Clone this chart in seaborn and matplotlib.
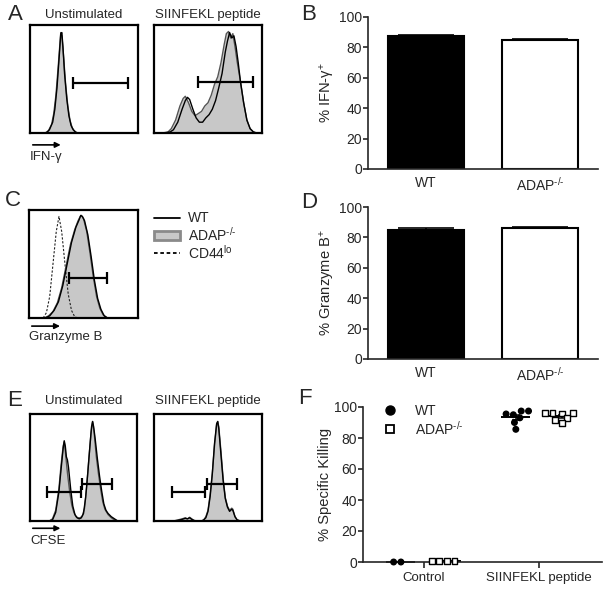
import numpy as np
import pandas as pd
import seaborn as sns
import matplotlib.pyplot as plt
from matplotlib.lines import Line2D
from matplotlib.patches import Patch

sns.set_style("ticks")
plt.rcParams['font.family'] = ['Liberation Sans', 'DejaVu Sans']
plt.rcParams['mathtext.fontset'] = 'custom'
plt.rcParams['mathtext.rm'] = 'Liberation Sans'
plt.rcParams['mathtext.it'] = 'Liberation Sans:italic'
plt.rcParams['mathtext.bf'] = 'Liberation Sans:bold'

# ---- flow histograms (x = channel position 0-100, y = % of max) ----
# A, unstimulated
a_un_adap_x = [14, 17, 20, 22, 24, 26, 27.5, 28.5, 29.5, 31, 33, 35, 37, 39, 41, 44]
a_un_adap_y = [0, 2, 8, 18, 35, 60, 80, 93, 90, 72, 45, 25, 12, 5, 2, 0]
a_un_wt_x = [15, 18, 21, 23, 25, 27, 28.5, 29.5, 30.5, 32, 34, 36, 38, 40, 43]
a_un_wt_y = [0, 3, 10, 22, 42, 70, 92, 93, 80, 55, 32, 16, 7, 3, 0]
# A, SIINFEKL peptide
a_pep_adap_x = [8, 13, 16, 20, 24, 27, 29, 32, 35, 38, 41, 44, 47, 50, 53, 56, 59, 62, 65, 67, 69, 71, 73, 75, 77, 80, 83, 86, 89, 92, 95]
a_pep_adap_y = [0, 1, 4, 12, 25, 32, 34, 28, 20, 16, 18, 20, 25, 28, 35, 45, 52, 65, 82, 92, 94, 88, 92, 80, 66, 48, 28, 12, 4, 1, 0]
a_pep_wt_x = [10, 15, 18, 22, 26, 29, 31, 33, 36, 39, 42, 45, 48, 51, 54, 57, 60, 63, 66, 68, 70, 72, 74, 76, 78, 80, 83, 86, 89, 92, 95]
a_pep_wt_y = [0, 1, 3, 10, 22, 30, 33, 31, 22, 14, 10, 10, 14, 17, 22, 30, 42, 55, 75, 85, 93, 88, 90, 80, 65, 48, 28, 12, 4, 1, 0]
a_gates = [[(40, 91, 46)], [(41, 92, 47)]]

# C, granzyme B
c_adap_x = [14, 18, 22, 26, 30, 34, 38, 42, 45, 47, 48, 50, 53, 56, 59, 62, 65, 68, 72]
c_adap_y = [0, 2, 6, 14, 28, 48, 68, 82, 90, 94, 95, 92, 80, 60, 38, 20, 9, 3, 0]
c_wt_x = [15, 19, 23, 27, 31, 35, 39, 43, 46, 47.5, 49, 51, 54, 57, 60, 63, 66, 69, 72]
c_wt_y = [0, 2, 7, 15, 30, 50, 70, 84, 91, 95, 94, 90, 77, 57, 35, 18, 8, 2, 0]
c_cd44_x = [13, 16, 19, 22, 25, 27.5, 30, 33, 36, 39, 42, 45]
c_cd44_y = [0, 5, 20, 50, 80, 94, 80, 50, 22, 7, 1, 0]
c_gates = [(36.7, 71.6, 37)]

# E, CFSE
e_un_adap_x = [18, 21, 24, 27, 29, 31, 32, 33, 35, 37, 39, 41, 43, 45, 47, 49, 51, 53, 55, 57, 58.5, 60, 62, 64, 66, 68, 70, 73, 76, 79, 82]
e_un_adap_y = [0, 2, 10, 30, 52, 70, 74, 65, 45, 28, 15, 8, 4, 3, 3, 5, 12, 32, 58, 82, 93, 82, 60, 44, 30, 18, 11, 6, 3, 1, 0]
e_un_wt_x = [18, 21, 24, 27, 29, 31, 32, 33, 34, 35, 36, 38, 40, 42, 44, 46, 48, 50, 52, 54, 56, 57.5, 58.5, 59.5, 61, 63, 65, 67, 69, 71, 73, 76, 79, 82]
e_un_wt_y = [0, 1, 8, 27, 48, 68, 75, 70, 60, 57, 50, 30, 14, 6, 3, 2, 3, 7, 22, 45, 70, 88, 93, 88, 76, 58, 42, 28, 16, 10, 7, 4, 2, 0]
e_pep_adap_x = [18, 22, 26, 29, 31, 33, 35, 37, 40, 44, 46, 48, 50, 52, 54, 56, 58, 59, 60, 62, 64, 66, 68, 70, 72, 73, 75, 77, 80]
e_pep_adap_y = [0, 1, 2, 3, 2, 3.5, 2, 0.5, 0, 0, 1, 4, 10, 25, 45, 70, 90, 93, 88, 65, 40, 22, 14, 10, 12, 11, 4, 1, 0]
e_pep_wt_x = [18, 22, 26, 29, 31, 33, 35, 37, 40, 44, 46, 48, 50, 52, 54, 56, 58, 59, 60, 62, 64, 66, 68, 70, 72, 73, 75, 77, 80]
e_pep_wt_y = [0, 0.5, 1.5, 2.5, 2, 3, 1.5, 0.5, 0, 0, 1, 3, 9, 23, 44, 72, 91, 93, 86, 62, 38, 21, 13, 9, 11, 10, 4, 1, 0]
e_gates = [[(15.6, 47.7, 27), (48.3, 76.6, 34.5)], [(16.4, 47, 27), (48.8, 76.5, 34.5)]]

# ---- bar charts ----
genotypes = ['WT', 'ADAP$^{\\text{-/-}}$']
ifng_mean = [87.7, 85.1]
ifng_sem = [0.7, 0.6]
gzmb_mean = [85.0, 86.0]
gzmb_sem = [1.0, 0.6]

# ---- in vivo killing ----
kill_cond = ['Control', 'SIINFEKL peptide']
wt_control = [0, 0]
adap_control = [0.5, 0.5, 0.5, 0.5]
wt_siinfekl = [97.4, 95.0, 95.5, 97.4, 90.0, 85.6, 93.0]
adap_siinfekl = [96.0, 96.0, 96.0, 95.8, 92.7, 89.5, 91.6]

FILL = '#c8c8c8'
EDGE = '#555555'
FS = 9.5

fig = plt.figure(figsize=(6.06, 5.91), dpi=100)
W, H = 606, 591


def add_ax(x0, y0, x1, y1):
    return fig.add_axes([x0 / W, 1 - y1 / H, (x1 - x0) / W, (y1 - y0) / H])


def hist_panel(ax, ax_, ay_, wx, wy, gates, title=None, pad=5):
    ax.fill_between(ax_, ay_, color=FILL, lw=0)
    sns.lineplot(x=ax_, y=ay_, ax=ax, color=EDGE, lw=1)
    sns.lineplot(x=wx, y=wy, ax=ax, color='black', lw=1)
    for g0, g1, gy in gates:
        ax.errorbar((g0 + g1) / 2, gy, xerr=(g1 - g0) / 2, color='black',
                    lw=1.6, capsize=4, capthick=1.6)
    ax.set_xlim(0, 100)
    ax.set_ylim(0, 100)
    ax.set_xticks([])
    ax.set_yticks([])
    for s in ax.spines.values():
        s.set_visible(True)
        s.set_linewidth(1.6)
        s.set_color('black')
    if title:
        ax.set_title(title, fontsize=FS, pad=pad)


def channel_arrow(ax, y_arrow, y_text, label):
    ax.annotate('', xy=(0.31, y_arrow), xytext=(0, y_arrow), xycoords='axes fraction',
                arrowprops=dict(arrowstyle='-|>', color='black', lw=1.2, mutation_scale=8),
                annotation_clip=False)
    ax.text(0, y_text, label, transform=ax.transAxes, fontsize=FS, ha='left', va='center')


# panel A
axA1 = add_ax(30, 25, 138, 133)
hist_panel(axA1, a_un_adap_x, a_un_adap_y, a_un_wt_x, a_un_wt_y, a_gates[0], 'Unstimulated')
channel_arrow(axA1, -0.11, -0.22, 'IFN-γ')
axA2 = add_ax(154, 25, 262, 133)
hist_panel(axA2, a_pep_adap_x, a_pep_adap_y, a_pep_wt_x, a_pep_wt_y, a_gates[1], 'SIINFEKL peptide')

# panel C
axC = add_ax(29, 210, 138, 318)
sns.lineplot(x=c_cd44_x, y=c_cd44_y, ax=axC, color='#222222', lw=0.8, linestyle=(0, (2, 1.5)))
hist_panel(axC, c_adap_x, c_adap_y, c_wt_x, c_wt_y, c_gates)
channel_arrow(axC, -0.075, -0.18, 'Granzyme B')
fig.legend(handles=[Line2D([], [], color='black', lw=1.3),
                    Patch(facecolor=FILL, edgecolor='#8a8a8a', lw=2),
                    Line2D([], [], color='black', lw=1.3, linestyle=(0, (2, 1.5)))],
           labels=['WT', 'ADAP$^{\\text{-/-}}$', 'CD44$^{\\text{lo}}$'],
           loc='upper left', bbox_to_anchor=(141 / W, 1 - 199 / H), frameon=False,
           fontsize=FS + 0.5, handlelength=1.9, handletextpad=0.6, labelspacing=0.0)

# panel E
axE1 = add_ax(30, 414, 137, 521)
hist_panel(axE1, e_un_adap_x, e_un_adap_y, e_un_wt_x, e_un_wt_y, e_gates[0], 'Unstimulated', pad=7)
channel_arrow(axE1, -0.068, -0.19, 'CFSE')
axE2 = add_ax(154, 414, 262, 521)
hist_panel(axE2, e_pep_adap_x, e_pep_adap_y, e_pep_wt_x, e_pep_wt_y, e_gates[1], 'SIINFEKL peptide', pad=7)


def style_yaxis(ax, ylabel):
    ax.set_ylim(0, 100)
    ax.set_yticks([0, 20, 40, 60, 80, 100])
    ax.set_ylabel(ylabel, fontsize=10.6, labelpad=1)
    ax.tick_params(axis='y', length=3.6, width=1.2, labelsize=10, pad=0.8)
    sns.despine(ax=ax)
    for s in ['left', 'bottom']:
        ax.spines[s].set_linewidth(1.2)


def bar_panel(ax, means, sems, ylabel):
    sns.barplot(x=genotypes, y=means, hue=genotypes, palette=['black', 'white'],
                edgecolor='black', linewidth=1.5, width=0.675, ax=ax, legend=False)
    ax.errorbar(range(len(means)), means, yerr=[[0] * len(sems), sems], fmt='none',
                ecolor='black', elinewidth=1.2, capsize=20, capthick=1.2)
    ax.set_xlim(-0.51, 1.51)
    ax.tick_params(axis='x', length=0, labelsize=FS + 0.5, pad=5)
    style_yaxis(ax, ylabel)


axB = add_ax(368, 17, 598, 169)
bar_panel(axB, ifng_mean, ifng_sem, '% IFN-γ$^{+}$')
axD = add_ax(368, 207, 598, 359)
bar_panel(axD, gzmb_mean, gzmb_sem, '% Granzyme B$^{+}$')

# panel F
kill = pd.concat([
    pd.DataFrame({'cond': 'Control', 'geno': 'WT', 'val': wt_control}),
    pd.DataFrame({'cond': 'Control', 'geno': 'ADAP', 'val': adap_control}),
    pd.DataFrame({'cond': 'SIINFEKL peptide', 'geno': 'WT', 'val': wt_siinfekl}),
    pd.DataFrame({'cond': 'SIINFEKL peptide', 'geno': 'ADAP', 'val': adap_siinfekl}),
], ignore_index=True)

axF = add_ax(363, 407, 602, 562)
for g, mk, sz in [('WT', 'o', 4.0), ('ADAP', 's', 4.2)]:
    sns.swarmplot(data=kill[kill.geno == g], x='cond', y='val', hue='geno',
                  hue_order=['WT', 'ADAP'], order=kill_cond, dodge=True,
                  palette={'WT': 'black', 'ADAP': 'white'}, marker=mk, size=sz,
                  edgecolor='black', linewidth=1.0, ax=axF, legend=False)
for coll in axF.collections:
    if len(coll.get_offsets()) > 0:
        coll.set_clip_on(False)

stats = kill.groupby(['cond', 'geno'])['val'].agg(['mean', 'sem']).fillna(0)
for ci, c in enumerate(kill_cond):
    for g, off in [('WT', -0.2), ('ADAP', 0.2)]:
        m, e = stats.loc[(c, g), 'mean'], stats.loc[(c, g), 'sem']
        axF.hlines(m, ci + off - 0.126, ci + off + 0.126, color='black', lw=1.4, clip_on=False)
        axF.errorbar(ci + off, m, yerr=e, fmt='none', ecolor='black', elinewidth=1.1,
                     capsize=3, capthick=1.1)
axF.set_xlim(-0.53, 1.55)
axF.set_xlabel('')
axF.tick_params(axis='x', length=4, width=1.2, labelsize=FS, pad=3)
style_yaxis(axF, '% Specific Killing')
axF.legend(handles=[Line2D([], [], marker='o', ls='', color='black', ms=6.5),
                    Line2D([], [], marker='s', ls='', mfc='white', mec='black', mew=1.3, ms=6)],
           labels=['WT', 'ADAP$^{\\text{-/-}}$'], loc='upper left', bbox_to_anchor=(0.03, 1.1),
           frameon=False, fontsize=FS + 0.5, handlelength=1.0, handletextpad=1.3, labelspacing=0.1)

# panel letters
for lab, x, y in [('A', 15, 15), ('B', 309, 15), ('C', 13, 201), ('D', 309, 203),
                  ('E', 15, 401), ('F', 305, 398)]:
    fig.text(x / W, 1 - y / H, lab, fontsize=16, ha='center', va='center')

fig.savefig('out.png', dpi=100)
